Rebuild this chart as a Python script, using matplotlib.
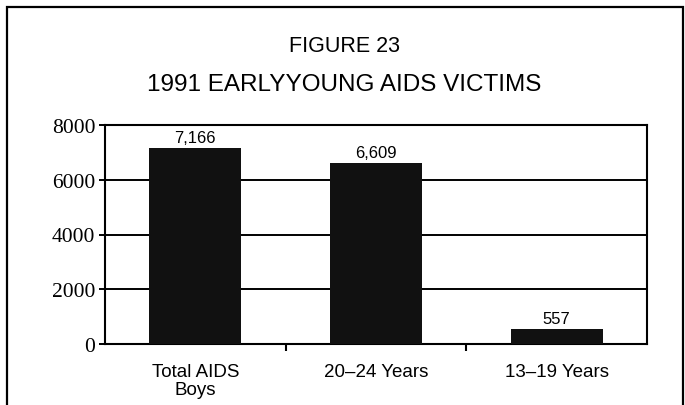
import matplotlib.pyplot as plt
from matplotlib.patches import Rectangle

categories = ["Total AIDS\nBoys", "20\u201324 Years", "13\u201319 Years"]
victims = [7166, 6609, 557]
value_labels = ["7,166", "6,609", "557"]
y_ticks = [0, 2000, 4000, 6000, 8000]


def main():
    fig = plt.figure(figsize=(6.85, 4.06), dpi=100)

    # outer frame of the printed figure (open at the bottom)
    fig.patches.append(Rectangle((7 / 685, -0.1), 676 / 685, 1.1 - 8 / 406,
                                 transform=fig.transFigure, fill=False,
                                 edgecolor="black", linewidth=1.6))

    fig.text(0.503, 1 - 46 / 406, "FIGURE 23", ha="center", va="center",
             fontsize=15.5, family="Liberation Sans")
    fig.text(0.503, 1 - 85 / 406, "1991 EARLYYOUNG AIDS VICTIMS", ha="center",
             va="center", fontsize=17.5, family="Liberation Sans")

    ax = fig.add_axes([105 / 685, 1 - 345 / 406, 542 / 685, 219 / 406])
    x = list(range(len(categories)))
    ax.bar(x, victims, width=0.51, color="#111111", zorder=3)

    for xi, v, lab in zip(x, victims, value_labels):
        ax.annotate(lab, (xi, v), xytext=(0, 2), textcoords="offset points",
                    ha="center", va="bottom", fontsize=12,
                    family="Liberation Sans")

    ax.set_xlim(-0.5, 2.5)
    ax.set_ylim(0, 8000)
    ax.set_yticks(y_ticks)
    ax.set_yticklabels([str(t) for t in y_ticks], family="Liberation Serif",
                       fontsize=15.5)
    ax.yaxis.grid(True, color="black", linewidth=1.4, zorder=1)

    ax.set_xticks(x)
    ax.set_xticklabels(categories, family="Liberation Sans", fontsize=13.5,
                       linespacing=1.05)
    ax.set_xticks([0.5, 1.5], minor=True)
    ax.tick_params(axis="x", which="major", length=0, pad=14)
    ax.tick_params(axis="x", which="minor", length=5, width=1.5,
                   direction="out")
    ax.tick_params(axis="y", length=4, width=1.4, direction="out", pad=3)

    for side in ["left", "right", "top", "bottom"]:
        ax.spines[side].set_linewidth(1.5)

    plt.savefig("out.png", dpi=100)


main()
